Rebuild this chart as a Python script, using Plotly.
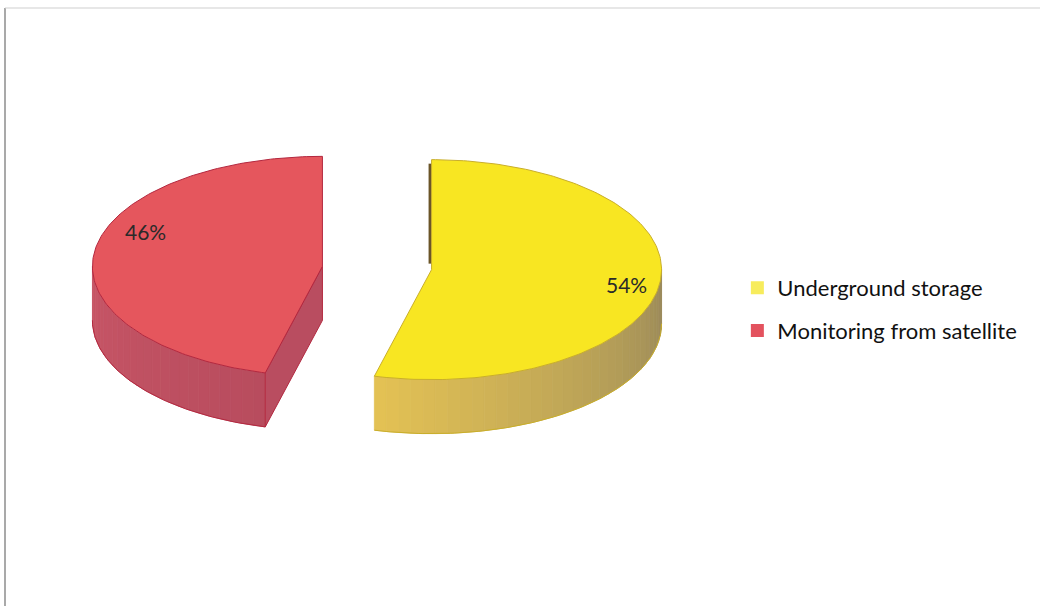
import numpy as np
import plotly.graph_objects as go

# ---- data ----
categories = ["Underground storage", "Monitoring from satellite"]
shares = [54, 46]

# ---- styling ----
top_colors = ["#F8E622", "#E5565D"]
legend_colors = ["#F7EC5C", "#E3525E"]
wall_light = [(228, 194, 84), (200, 86, 102)]
wall_dark = [(152, 136, 90), (184, 76, 94)]
cut_colors = ["#6B5528", "#B94D60"]
edge_colors = ["#C9AE2A", "#B3283F"]
label_shift = [2, 15]          # degrees added to the mid angle for label placement
label_radius = [0.86, 0.83]

CX, CY = 377, 268      # pie centre (pixel-like data units)
RX, RY = 230, 110      # ellipse radii of the tilted disc
DEPTH = 54             # thickness of the disc
EXPLODE = 55           # explode distance along each slice's mid angle
FONT = "Lato, 'Open Sans', sans-serif"


def point(cx, cy, deg, r=1.0, dz=0.0):
    t = np.radians(deg)
    return cx + RX * r * np.sin(t), cy - RY * r * np.cos(t) + dz


def arc(cx, cy, a0, a1, dz=0.0, step=1.0):
    n = max(2, int(abs(a1 - a0) / step) + 1)
    angs = np.linspace(a0, a1, n)
    xs, ys = point(cx, cy, angs, dz=dz)
    return list(xs), list(ys)


def rgb(c):
    return "rgb(%d,%d,%d)" % tuple(int(round(v)) for v in c)


fig = go.Figure()

# legend entries
for name, col in zip(categories, legend_colors):
    fig.add_trace(go.Scatter(
        x=[None], y=[None], mode="markers", name=name, legendgroup=name,
        marker=dict(symbol="square", size=13, color=col,
                    line=dict(color=col, width=0)),
        hoverinfo="skip"))

total = float(sum(shares))
start = 0.0
for i, share in enumerate(shares):
    t0 = start
    t1 = start + 360.0 * share / total
    start = t1
    mid = (t0 + t1) / 2
    m = np.radians(mid)
    cx = CX + EXPLODE * np.sin(m)
    cy = CY - 0.5 * EXPLODE * (RY / RX) * np.cos(m)

    # outer curved wall (front half only)
    lo, hi = max(t0, 90.0), min(t1, 270.0)
    if hi > lo:
        nseg = max(2, int((hi - lo) / 3))
        edges = np.linspace(hi, lo, nseg + 1)
        for k in range(nseg):
            a0, a1 = edges[k], edges[k + 1]
            f = (k + 0.5) / nseg
            col = [wall_light[i][j] + (wall_dark[i][j] - wall_light[i][j]) * f for j in range(3)]
            tx, ty = arc(cx, cy, a0, a1)
            bx, by = arc(cx, cy, a1, a0, dz=DEPTH)
            fig.add_trace(go.Scatter(
                x=tx + bx + [tx[0]], y=ty + by + [ty[0]], mode="lines",
                fill="toself", fillcolor=rgb(col),
                line=dict(color=rgb(col), width=0.8),
                showlegend=False, hoverinfo="skip"))
        bx, by = arc(cx, cy, lo, hi, dz=DEPTH)
        fig.add_trace(go.Scatter(
            x=bx, y=by, mode="lines", line=dict(color=edge_colors[i], width=1),
            showlegend=False, hoverinfo="skip"))

    # radial cut faces
    for edge, sign in ((t0, -1), (t1, 1)):
        s = np.sin(np.radians(edge))
        facing = (-s if sign < 0 else s)   # >0 means the face turns to the viewer
        ex, ey = point(cx, cy, edge)
        if facing > 1e-6:
            xs = [cx, ex, ex, cx, cx]
            ys = [cy, ey, ey + DEPTH, cy + DEPTH, cy]
            fig.add_trace(go.Scatter(
                x=xs, y=ys, mode="lines", fill="toself", fillcolor=cut_colors[i],
                line=dict(color=edge_colors[i], width=1),
                showlegend=False, hoverinfo="skip"))
        elif abs(facing) <= 1e-6 and cx > CX and sign < 0:
            # edge-on face seen as a thin sliver
            fig.add_trace(go.Scatter(
                x=[ex - 1.5, cx - 1.5], y=[ey + 4, cy - 6], mode="lines",
                line=dict(color=cut_colors[i], width=3),
                showlegend=False, hoverinfo="skip"))

    # top face
    ax_, ay_ = arc(cx, cy, t0, t1)
    fig.add_trace(go.Scatter(
        x=[cx] + ax_ + [cx], y=[cy] + ay_ + [cy], mode="lines",
        fill="toself", fillcolor=top_colors[i],
        line=dict(color=edge_colors[i], width=1),
        showlegend=False, hoverinfo="skip"))

    # percentage label
    lx, ly = point(cx, cy, mid + label_shift[i], r=label_radius[i])
    fig.add_annotation(x=lx, y=ly, text=f"{share}%", showarrow=False,
                       font=dict(family=FONT, size=21, color="#2a2a2a"))

# thin frame of the chart area
fig.add_shape(type="line", xref="x", yref="y", x0=5, y0=606, x1=5, y1=8,
              line=dict(color="#8c8c8c", width=1.5))
fig.add_shape(type="line", xref="x", yref="y", x0=5, y0=8, x1=1040, y1=8,
              line=dict(color="#cfcfcf", width=1))

fig.update_layout(
    width=1040, height=606,
    margin=dict(l=0, r=0, t=0, b=0),
    paper_bgcolor="white", plot_bgcolor="white",
    xaxis=dict(range=[0, 1040], visible=False, fixedrange=True),
    yaxis=dict(range=[606, 0], visible=False, fixedrange=True),
    showlegend=True,
    legend=dict(x=0.709, y=1 - 267 / 606, xanchor="left", yanchor="top",
                font=dict(family=FONT, size=22, color="#111111"),
                tracegroupgap=11, bgcolor="rgba(0,0,0,0)", itemwidth=30),
)

fig.write_html("out.html")
